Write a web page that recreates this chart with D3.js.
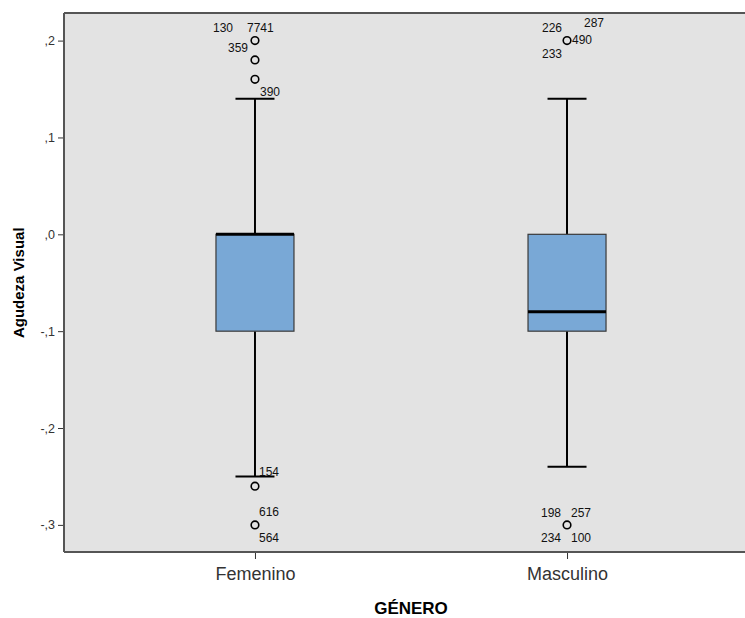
<!DOCTYPE html>
<html>
<head>
<meta charset="utf-8">
<script src="https://cdn.jsdelivr.net/npm/d3@7"></script>
<style>
  body { margin: 0; background: #fff; overflow: hidden; }
  svg { display: block; font-family: "Liberation Sans", Arial, sans-serif; }
</style>
</head>
<body>
<div id="chart"></div>
<script>
// categories and box stats
const categories = ["Femenino", "Masculino"];
const whiskerLow  = [-0.25, -0.24];
const q1          = [-0.10, -0.10];
const medians     = [0.00, -0.08];
const q3          = [0.00, 0.00];
const whiskerHigh = [0.14, 0.14];

// outliers: category, value, case labels
const outliers = [
    { cat: "Femenino", value: 0.20, ids: ["130", "7741", "359"] },
    { cat: "Femenino", value: 0.18, ids: [] },
    { cat: "Femenino", value: 0.16, ids: ["390"] },
    { cat: "Femenino", value: -0.26, ids: ["154"] },
    { cat: "Femenino", value: -0.30, ids: ["616", "564"] },
    { cat: "Masculino", value: 0.20, ids: ["226", "287", "490", "233"] },
    { cat: "Masculino", value: -0.30, ids: ["198", "257", "234", "100"] }
];

const yTicks = [0.2, 0.1, 0.0, -0.1, -0.2, -0.3];

// label placement around each outlier (px offset from point)
const labelSpots = {
    "130": [-42, -13], "7741": [-8, -13], "359": [-27, 7],
    "390": [5, 12], "154": [4, -14],
    "616": [4, -13], "564": [4, 13],
    "226": [-25, -13], "287": [17, -18], "490": [5, -1], "233": [-25, 13],
    "198": [-26, -12], "257": [4, -12], "234": [-26, 13], "100": [4, 13]
};

const W = 745, H = 618;
const margin = { top: 13, right: -13, bottom: 66, left: 64 };
const width = W - margin.left - margin.right;
const height = H - margin.top - margin.bottom;

const svg = d3.select("#chart").append("svg")
    .attr("width", W)
    .attr("height", H);

const g = svg.append("g")
    .attr("transform", `translate(${margin.left},${margin.top})`);

const x = d3.scalePoint()
    .domain(categories)
    .range([0, width])
    .padding(0.612);

const y = d3.scaleLinear()
    .domain([-0.328, 0.2285])
    .range([height, 0]);

const boxW = 78;

// background
g.append("rect")
    .attr("width", width)
    .attr("height", height)
    .attr("fill", "#e3e3e3");

// boxes
const boxes = g.selectAll(".box")
    .data(categories)
    .enter().append("g")
    .attr("class", "box")
    .attr("transform", d => `translate(${x(d)},0)`);

// whiskers
boxes.append("line")
    .attr("y1", (d, i) => y(whiskerHigh[i]))
    .attr("y2", (d, i) => y(q3[i]))
    .attr("stroke", "#000").attr("stroke-width", 2);
boxes.append("line")
    .attr("y1", (d, i) => y(q1[i]))
    .attr("y2", (d, i) => y(whiskerLow[i]))
    .attr("stroke", "#000").attr("stroke-width", 2);
boxes.append("line")
    .attr("x1", -boxW / 4).attr("x2", boxW / 4)
    .attr("y1", (d, i) => y(whiskerHigh[i])).attr("y2", (d, i) => y(whiskerHigh[i]))
    .attr("stroke", "#000").attr("stroke-width", 2);
boxes.append("line")
    .attr("x1", -boxW / 4).attr("x2", boxW / 4)
    .attr("y1", (d, i) => y(whiskerLow[i])).attr("y2", (d, i) => y(whiskerLow[i]))
    .attr("stroke", "#000").attr("stroke-width", 2);

boxes.append("rect")
    .attr("x", -boxW / 2)
    .attr("width", boxW)
    .attr("y", (d, i) => y(q3[i]))
    .attr("height", (d, i) => y(q1[i]) - y(q3[i]))
    .attr("fill", "#79a8d6")
    .attr("stroke", "#3a3a3a")
    .attr("stroke-width", 1.2);

boxes.append("line")
    .attr("x1", -boxW / 2).attr("x2", boxW / 2)
    .attr("y1", (d, i) => y(medians[i])).attr("y2", (d, i) => y(medians[i]))
    .attr("stroke", "#000").attr("stroke-width", 3);

// outliers
g.selectAll(".out")
    .data(outliers)
    .enter().append("circle")
    .attr("cx", d => x(d.cat))
    .attr("cy", d => y(d.value))
    .attr("r", 3.8)
    .attr("fill", "none")
    .attr("stroke", "#000")
    .attr("stroke-width", 1.6);

const labels = outliers.flatMap(o => o.ids.map(id => ({ id, cat: o.cat, value: o.value })));
g.selectAll(".olab")
    .data(labels)
    .enter().append("text")
    .attr("x", d => x(d.cat) + labelSpots[d.id][0])
    .attr("y", d => y(d.value) + labelSpots[d.id][1])
    .attr("dy", "0.35em")
    .attr("font-size", 12)
    .attr("fill", "#111")
    .text(d => d.id);

// axes
const yAxis = g.append("g")
    .call(d3.axisLeft(y).tickValues(yTicks).tickSize(6).tickPadding(3)
        .tickFormat(v => (v < 0 ? "-" : "") + "," + Math.round(Math.abs(v) * 10)));
yAxis.select(".domain").remove();
yAxis.selectAll(".tick line").attr("stroke", "#333");
yAxis.selectAll("text").attr("font-size", 12.5).attr("fill", "#333")
    .attr("font-family", "Liberation Sans, Arial, sans-serif");

const xAxis = g.append("g")
    .attr("transform", `translate(0,${height})`)
    .call(d3.axisBottom(x).tickSize(7).tickPadding(8));
xAxis.select(".domain").remove();
xAxis.selectAll(".tick line").attr("stroke", "#333");
xAxis.selectAll("text").attr("font-size", 18).attr("fill", "#333")
    .attr("font-family", "Liberation Sans, Arial, sans-serif");

// plot frame: left, top and bottom only (right edge runs off the page)
const frame = g.append("g").attr("stroke", "#555").attr("stroke-width", 2);
frame.append("line").attr("x1", 0).attr("x2", 0).attr("y1", 0).attr("y2", height);
frame.append("line").attr("x1", 0).attr("x2", width).attr("y1", 0).attr("y2", 0);
frame.append("line").attr("x1", 0).attr("x2", width).attr("y1", height).attr("y2", height);

// axis titles
svg.append("text")
    .attr("transform", `translate(24,${margin.top + y(-0.05)}) rotate(-90)`)
    .attr("text-anchor", "middle")
    .attr("font-size", 15)
    .attr("font-weight", "bold")
    .text("Agudeza Visual");

svg.append("text")
    .attr("x", 411)
    .attr("y", 614)
    .attr("text-anchor", "middle")
    .attr("font-size", 17)
    .attr("font-weight", "bold")
    .text("GÉNERO");
</script>
</body>
</html>
